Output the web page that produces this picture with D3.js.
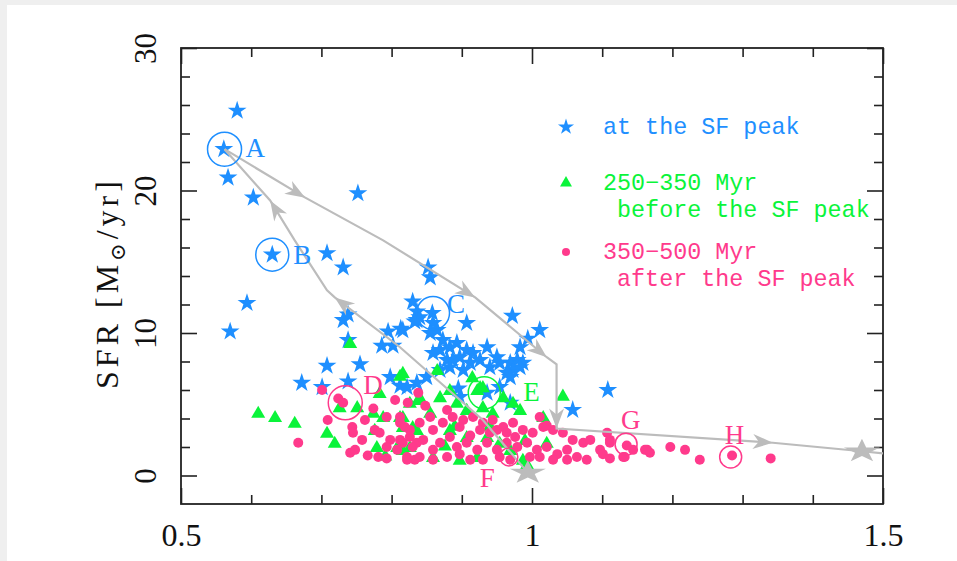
<!DOCTYPE html>
<html><head><meta charset="utf-8">
<script src="https://cdn.jsdelivr.net/npm/d3@7"></script>
<style>
html,body{margin:0;padding:0;background:#efefef;}
svg{display:block;}
</style></head><body>
<svg id="c" width="957" height="561"></svg>
<script>
// ---------- data ----------
const xMajor = [0.5, 1, 1.5];
const xMinor = [0.6, 0.7, 0.8, 0.9, 1.1, 1.2, 1.3, 1.4];
const yMajor = [0, 10, 20, 30];
const yMinor = [2, 4, 6, 8, 12, 14, 16, 18, 22, 24, 26, 28];
const xTickLabels = ["0.5", "1", "1.5"];
const yTickLabels = ["0", "10", "20", "30"];

// galaxies at the SF peak (blue stars)
const peakStars = [
 [0.580,25.6],[0.561,22.9],[0.567,20.9],[0.603,19.5],[0.752,19.8],[0.630,15.5],[0.708,15.6],[0.731,14.6],
 [0.594,12.1],[0.570,10.1],[0.738,11.3],[0.731,10.9],[0.738,9.5],[0.795,10.1],[0.786,9.1],[0.802,9.1],
 [0.813,10.3],[0.708,7.7],[0.755,7.8],[0.672,6.5],[0.738,6.6],[0.701,6.2],[0.798,6.9],[0.812,6.3],
 [0.830,12.2],[0.836,11.5],[0.836,10.9],[0.852,14.6],[0.855,13.9],[0.858,11.4],[0.840,11.1],[0.833,10.8],
 [0.859,10.7],[0.855,10.0],[0.865,10.2],[0.873,9.5],[0.883,9.0],[0.869,8.8],[0.859,8.6],[0.893,9.3],
 [0.907,8.8],[0.916,8.6],[0.936,9.0],[0.950,8.3],[0.926,8.1],[0.912,7.9],[0.897,8.3],[0.887,8.1],
 [0.879,8.1],[0.969,7.9],[0.979,8.1],[0.987,7.9],[0.983,7.6],[0.973,7.4],[0.964,7.2],[0.969,6.9],
 [0.954,7.9],[0.940,7.6],[0.902,7.4],[0.883,7.6],[0.869,7.4],[0.907,10.7],[0.972,11.2],[1.011,10.2],
 [0.994,9.6],[1.108,6.0],[1.058,4.6],[0.895,6.1],[0.850,6.9],[0.836,6.5],[0.822,6.2],[0.897,5.5],
 [0.954,6.2],[0.969,5.1],[0.816,10.2],[0.983,9.0],[0.936,5.8]
];
// 250-350 Myr before the SF peak (green triangles)
const beforeTri = [
 [0.610,4.4],[0.634,4.1],[0.662,3.7],[0.741,9.3],[0.708,3.0],[0.719,2.3],[0.812,7.0],[0.783,5.8],
 [0.726,4.8],[0.751,4.8],[0.774,4.4],[0.788,4.1],[0.776,3.2],[0.812,4.1],[0.816,3.4],[0.779,2.0],
 [0.808,2.0],[0.826,2.0],[0.836,3.2],[0.838,5.3],[0.816,7.2],[0.865,7.4],[0.915,6.9],[0.930,6.2],
 [0.922,6.0],[0.959,5.5],[0.973,5.1],[0.983,4.6],[1.044,5.6],[0.883,6.0],[0.869,5.5],[0.840,5.5],
 [0.826,5.1],[0.893,5.1],[0.907,4.6],[0.930,4.8],[0.944,4.4],[1.016,4.1],[0.926,6.2],[0.855,4.4],
 [0.816,4.1],[0.830,3.4],[0.883,3.2],[0.907,2.7],[0.936,2.7],[0.954,2.3],[0.987,1.1],[0.993,0.8],
 [1.021,2.3],[0.816,1.8],[0.859,1.3],[0.897,1.1],[0.922,1.3],[0.969,1.8],[0.890,3.5],[0.940,3.5],
 [0.990,2.5],[0.791,1.4],[0.876,2.1]
];
// 350-500 Myr after the SF peak (pink dots)
const afterDots = [
 [0.701,6.0],[0.724,5.4],[0.731,5.1],[0.709,3.9],[0.744,3.4],[0.745,3.0],[0.667,2.3],[0.741,1.6],
 [0.748,1.8],[0.774,4.7],[0.793,4.1],[0.776,3.2],[0.783,3.0],[0.812,3.7],[0.823,5.1],[0.819,3.4],
 [0.798,2.5],[0.793,2.0],[0.781,1.3],[0.793,1.2],[0.808,1.8],[0.812,2.5],[0.826,2.7],[0.822,1.3],
 [0.833,1.1],[0.836,2.3],[0.838,5.8],[0.812,4.1],[0.826,3.2],[0.840,3.7],[0.855,4.1],[0.859,3.2],
 [0.873,3.7],[0.887,4.1],[0.902,3.9],[0.916,4.1],[0.930,3.7],[0.944,3.9],[0.959,3.4],[0.973,3.7],
 [0.987,3.2],[1.001,3.0],[1.016,3.4],[1.030,3.2],[1.044,3.0],[1.058,2.5],[1.073,2.3],[1.083,2.5],
 [1.097,1.8],[1.107,3.0],[1.111,2.5],[1.130,1.3],[1.144,1.8],[1.164,1.8],[0.816,2.3],[0.830,2.0],
 [0.845,2.5],[0.859,1.8],[0.869,2.3],[0.883,2.7],[0.893,2.0],[0.907,2.3],[0.922,1.8],[0.936,2.3],
 [0.950,1.8],[0.964,2.3],[0.979,2.0],[0.993,2.3],[1.007,1.8],[1.021,2.0],[1.036,1.5],[1.050,1.8],
 [1.064,1.3],[1.078,1.1],[0.822,1.1],[0.840,1.3],[0.859,1.1],[0.879,1.3],[0.897,1.5],[0.912,1.1],
 [0.930,1.1],[0.954,1.3],[0.969,1.1],[0.997,1.3],[1.011,1.3],[1.030,1.1],[1.050,1.1],[0.879,4.6],
 [0.897,3.4],[0.926,3.2],[0.940,3.0],[0.950,3.2],[0.964,3.0],[1.021,3.5],[1.011,4.1],[1.111,2.3],
 [1.135,2.1],[1.101,1.5],[1.111,1.2],[1.132,1.3],[1.161,1.8],[1.168,1.6],[1.197,2.0],[1.218,1.8],
 [1.239,1.1],[1.285,1.4],[1.340,1.2],[0.805,5.3],[0.848,4.9],[0.912,2.8],[0.976,2.7],[0.762,3.9],
 [0.758,2.5],[0.766,1.4]
];

// evolutionary tracks (grey), arrow heads at listed vertex indices
const outerTrack = [[0.562,22.9],[0.677,19.5],[0.788,16.5],[0.919,12.5],[1.021,8.3],[1.035,7.8],[1.035,3.3],[1.343,2.3],[1.47,1.7],[1.52,1.45]];
const outerArrows = [1, 3, 4, 6, 7];
const innerTrack = [[0.994,0.2],[0.930,3.9],[0.812,9.0],[0.719,12.5],[0.708,13.0],[0.662,16.5],[0.627,19.3],[0.562,22.9]];
const innerArrows = [3, 6];
const trackEnds = [[0.994,0.2],[1.47,1.7]];

// labelled galaxies
const annLetters = ["A","B","C","D","E","F","G","H"];
const annX = [0.562,0.630,0.859,0.734,0.932,0.967,1.134,1.283];
const annY = [22.9,15.5,11.4,5.1,5.8,1.3,2.2,1.3];
const annGroup = ["peak","peak","peak","after","before","after","after","after"];

const legendLines = [["at the SF peak"],["250\u2212350 Myr"," before the SF peak"],["350\u2212500 Myr"," after the SF peak"]];
const legendGroups = ["peak","before","after"];

// ---------- styles ----------
const colors = {peak:"#1e8fff", before:"#0af43a", after:"#ff3a8c"};
const grey = "#bcbcbc";
const annR = [17,16.5,16.5,17,16,9,11,11];
const annOff = [[21,8],[21,9],[14,0],[18,-9],[39,8],[-29,30],[-5,-15],[-6,-13]];

const svg = d3.select("#c");
svg.append("rect").attr("x",7).attr("y",5).attr("width",950).attr("height",556).attr("fill","#fff");

const L=181, R=883, T=48, B=504;
const x = d3.scaleLinear().domain([0.5,1.5]).range([L,R]);
const y = d3.scaleLinear().domain([-2,30]).range([B,T]);

svg.append("clipPath").attr("id","clip").append("rect").attr("x",L).attr("y",T).attr("width",R-L).attr("height",B-T);

// ---------- axes ----------
function styleAxis(g){ g.select(".domain").remove(); g.selectAll("line").attr("stroke","#222").attr("stroke-width",1.6); }
const serif = "'Liberation Serif','DejaVu Serif',serif";

svg.append("g").attr("transform",`translate(0,${B})`).call(d3.axisBottom(x).tickValues(xMinor).tickSize(-9).tickFormat("")).call(styleAxis);
svg.append("g").attr("transform",`translate(0,${T})`).call(d3.axisTop(x).tickValues(xMinor).tickSize(-9).tickFormat("")).call(styleAxis);
svg.append("g").attr("transform",`translate(0,${T})`).call(d3.axisTop(x).tickValues(xMajor).tickSize(-16).tickFormat("")).call(styleAxis);
const xb = svg.append("g").attr("transform",`translate(0,${B})`)
  .call(d3.axisBottom(x).tickValues(xMajor).tickSize(-16).tickPadding(19).tickFormat((d,i)=>xTickLabels[i])).call(styleAxis);
xb.selectAll("text").attr("font-family",serif).attr("font-size",32).attr("fill","#111").attr("dy","0.71em");

svg.append("g").attr("transform",`translate(${L},0)`).call(d3.axisLeft(y).tickValues(yMinor).tickSize(-9).tickFormat("")).call(styleAxis);
svg.append("g").attr("transform",`translate(${R},0)`).call(d3.axisRight(y).tickValues(yMinor).tickSize(-9).tickFormat("")).call(styleAxis);
svg.append("g").attr("transform",`translate(${R},0)`).call(d3.axisRight(y).tickValues(yMajor).tickSize(-16).tickFormat("")).call(styleAxis);
const yl = svg.append("g").attr("transform",`translate(${L},0)`)
  .call(d3.axisLeft(y).tickValues(yMajor).tickSize(-16).tickFormat((d,i)=>yTickLabels[i])).call(styleAxis);
yl.selectAll("text").attr("font-family",serif).attr("font-size",31).attr("fill","#111")
  .attr("x",0).attr("y",-25).attr("dy",0).attr("text-anchor","middle").attr("transform","rotate(-90)");

svg.append("rect").attr("x",L).attr("y",T).attr("width",R-L).attr("height",B-T)
  .attr("fill","none").attr("stroke","#222").attr("stroke-width",1.8);

// y axis title
const yt = svg.append("text").attr("transform","translate(118,283) rotate(-90)")
  .attr("text-anchor","middle").attr("font-family",serif).attr("font-size",32).attr("fill","#111")
  .attr("letter-spacing",4);
yt.append("tspan").text("SFR  [M");
yt.append("tspan").attr("font-size",21).attr("dy",7).text("\u2299");
yt.append("tspan").attr("dy",-7).text("/yr]");

// ---------- points ----------
const plot = svg.append("g").attr("clip-path","url(#clip)");
plot.selectAll(".st").data(peakStars).join("path").attr("class","st")
  .attr("d", d3.symbol(d3.symbolStar, 110)).attr("fill",colors.peak)
  .attr("transform", d=>`translate(${x(d[0])},${y(d[1])})`);
plot.selectAll(".tr").data(beforeTri).join("path").attr("class","tr")
  .attr("d", d3.symbol(d3.symbolTriangle, 85)).attr("fill",colors.before)
  .attr("transform", d=>`translate(${x(d[0])},${y(d[1])+1})`);
plot.selectAll(".dt").data(afterDots).join("circle").attr("class","dt")
  .attr("r",5).attr("fill",colors.after)
  .attr("cx", d=>x(d[0])).attr("cy", d=>y(d[1]));

// ---------- tracks ----------
const line = d3.line().x(d=>x(d[0])).y(d=>y(d[1]));
const arrowPath = "M0,0 L-20,-7.5 L-14,0 L-20,7.5 Z";
function drawTrack(pts, arrows){
  plot.append("path").attr("d", line(pts)).attr("fill","none").attr("stroke",grey).attr("stroke-width",2.2);
  arrows.forEach(i=>{
    const a = pts[i-1], b = pts[i];
    const ang = Math.atan2(y(b[1])-y(a[1]), x(b[0])-x(a[0]))*180/Math.PI;
    plot.append("path").attr("d",arrowPath).attr("fill",grey)
      .attr("transform",`translate(${x(b[0])},${y(b[1])}) rotate(${ang})`);
  });
}
drawTrack(outerTrack, outerArrows);
drawTrack(innerTrack, innerArrows);
plot.selectAll(".ge").data(trackEnds).join("path").attr("class","ge")
  .attr("d", d3.symbol(d3.symbolStar, 240)).attr("fill",grey)
  .attr("transform", d=>`translate(${x(d[0])},${y(d[1])}) scale(1.3,0.85)`);

// ---------- annotations ----------
annLetters.forEach((t,i)=>{
  const cx = x(annX[i]), cy = y(annY[i]), c = colors[annGroup[i]];
  svg.append("circle").attr("cx",cx).attr("cy",cy).attr("r",annR[i])
    .attr("fill","none").attr("stroke",c).attr("stroke-width",1.5);
  svg.append("text").attr("x",cx+annOff[i][0]).attr("y",cy+annOff[i][1])
    .attr("font-family",serif).attr("font-size",27).attr("fill",c).text(t);
});

// ---------- legend ----------
const mono = "'Liberation Mono','DejaVu Sans Mono',monospace";
const legY = [134, 190, 259];
const legSym = [d3.symbol(d3.symbolStar,80)(), d3.symbol(d3.symbolTriangle,62)(), null];
legendGroups.forEach((gname,i)=>{
  const sy = legY[i] - 7;
  if (legSym[i]) svg.append("path").attr("d",legSym[i]).attr("fill",colors[gname]).attr("transform",`translate(566,${sy})`);
  else svg.append("circle").attr("cx",566).attr("cy",sy).attr("r",4).attr("fill",colors[gname]);
  legendLines[i].forEach((s,j)=>{
    svg.append("text").attr("x",603).attr("y",legY[i]+j*27).attr("xml:space","preserve")
      .style("white-space","pre").attr("font-family",mono).attr("font-size",23.4).attr("fill",colors[gname]).text(s);
  });
});
</script>
</body></html>
